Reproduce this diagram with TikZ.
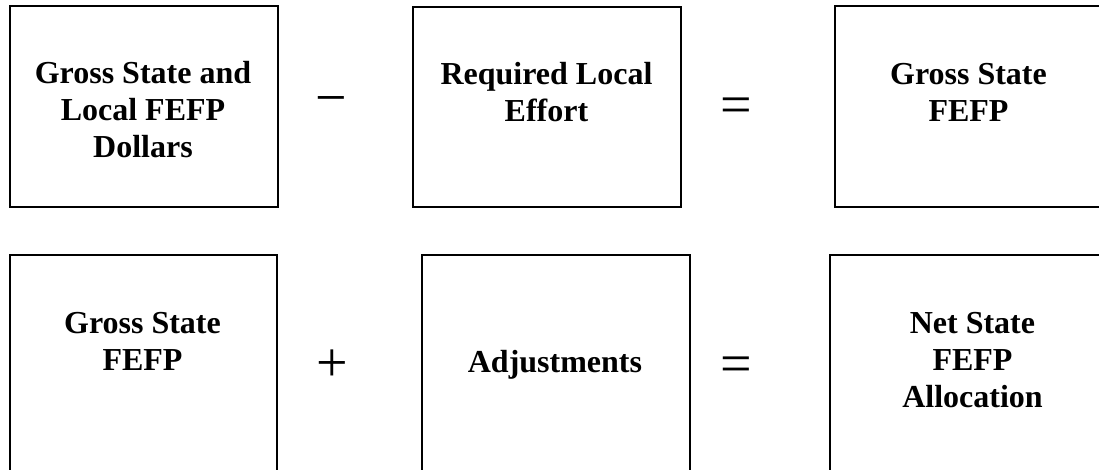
\documentclass[tikz,border=0pt]{standalone}
\usepackage{fontspec}
\setmainfont{Liberation Serif}
\tikzset{
	boxtext/.style={font=\bfseries\fontsize{16}{18.5}\selectfont, align=center, anchor=north, inner sep=0pt},
	optext/.style={font=\fontsize{28}{28}\selectfont, inner sep=0pt}
}

\begin{document}
\begin{tikzpicture}[x=0.5pt, y=-0.5pt]
			%%%%% START %%%%%
			\useasboundingbox (0, 0) rectangle (1099, 470);
			\clip (0, 0) rectangle (1099, 470);
			
			% top row
			\draw[line width=1pt] (9.5, 6) rectangle (278, 207);
			\node[boxtext] (gslfefp) at (143, 60.5) {Gross State and\\Local FEFP\\Dollars};
			
			\node[optext] (minus) at (331, 107) {−};
			
			\draw[line width=1pt] (413, 7.5) rectangle (680.5, 207);
			\node[boxtext] (rle) at (546.5, 61.5) {Required Local\\Effort};
			
			\node[optext] (eqtop) at (736, 111) {=};
			
			\draw[line width=1pt] (834.5, 6) rectangle (1104, 207);
			\node[boxtext] (gsfefptop) at (968.5, 62.5) {Gross State\\FEFP};
			
			% bottom row
			\draw[line width=1pt] (9.5, 255) rectangle (277, 480);
			\node[boxtext] (gsfefpbot) at (142.5, 311.5) {Gross State\\FEFP};
			
			\node[optext] (plus) at (332, 366) {+};
			
			\draw[line width=1pt] (421.5, 255) rectangle (689.5, 480);
			\node[boxtext] (adj) at (555, 349.5) {Adjustments};
			
			\node[optext] (eqbot) at (736, 370) {=};
			
			\draw[line width=1pt] (829.5, 255) rectangle (1116, 480);
			\node[boxtext] (nsfefp) at (972.5, 311.5) {Net State\\FEFP\\Allocation};
			
			%%%%% END %%%%%
		\end{tikzpicture}
\end{document}
